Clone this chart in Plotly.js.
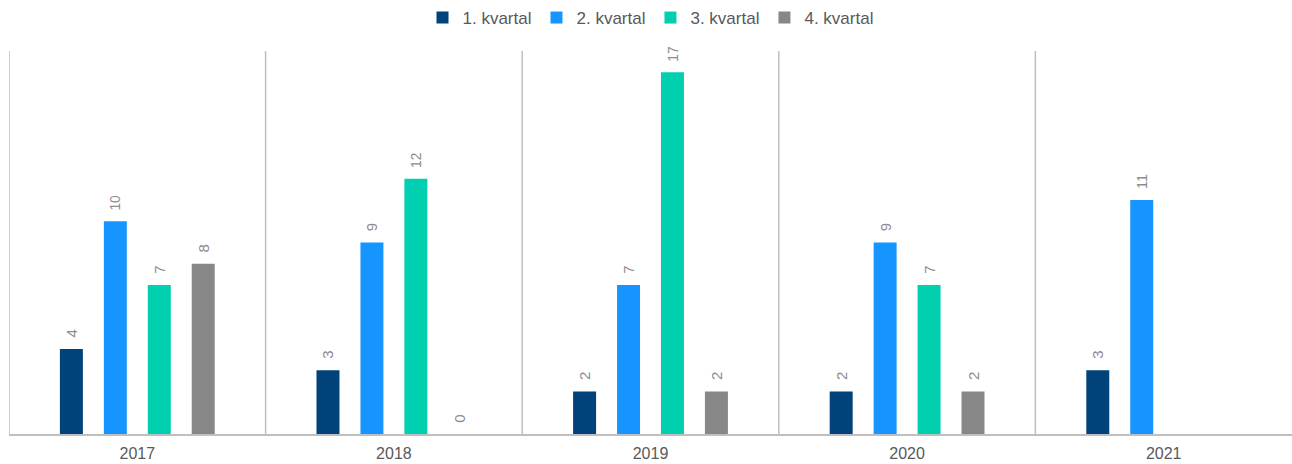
<!DOCTYPE html>
<html>
<head>
<meta charset="utf-8">
<script src="https://cdn.plot.ly/plotly-3.0.1.min.js"></script>
<style>html,body{margin:0;padding:0;background:#fff;}#chart{width:1292px;height:464px;}</style>
</head>
<body>
<div id="chart"></div>
<script>
const years = ['2017', '2018', '2019', '2020', '2021'];
const seriesNames = ['1. kvartal', '2. kvartal', '3. kvartal', '4. kvartal'];
const q1 = [4, 3, 2, 2, 3];
const q2 = [10, 9, 7, 9, 11];
const q3 = [7, 12, 17, 7, null];
const q4 = [8, 0, 2, 2, null];
const colors = ['#00427a', '#1694ff', '#00d0b0', '#878787'];

const allSeries = [q1, q2, q3, q4];
const traces = allSeries.map((vals, i) => ({
  type: 'bar',
  name: seriesNames[i],
  x: years,
  y: vals,
  marker: {color: colors[i]},
  text: vals.map(v => v === null ? '' : '\u00a0\u00a0' + String(v)),
  textposition: 'outside',
  textangle: -90,
  textfont: {family: 'Liberation Sans, Arial, sans-serif', size: 15, color: '#8c8c8c'},
  cliponaxis: false,
  hoverinfo: 'skip'
}));

const shapes = [];
for (let k = 0; k < years.length; k++) {
  shapes.push({type: 'line', xref: 'x', yref: 'paper', x0: k - 0.5, x1: k - 0.5, y0: 0, y1: 1,
    line: {color: '#bfbfbf', width: 1.5}});
}

const layout = {
  width: 1292, height: 464,
  margin: {l: 9, r: 0, t: 51, b: 30},
  paper_bgcolor: '#ffffff', plot_bgcolor: '#ffffff',
  barmode: 'group',
  bargap: 0.315,
  bargroupgap: 0.477,
  font: {family: 'Liberation Sans, Arial, sans-serif', color: '#595959', size: 16},
  showlegend: true,
  legend: {orientation: 'h', x: 0.5, xanchor: 'center', y: 1, yref: 'container', yanchor: 'top',
    font: {size: 17, color: '#595959'}, itemwidth: 30, traceorder: 'normal'},
  xaxis: {type: 'category', range: [-0.5, 4.5], showgrid: false, zeroline: false,
    showline: true, linecolor: '#bfbfbf', linewidth: 1.5, ticks: '',
    ticklabelstandoff: 4,
    tickfont: {size: 16, color: '#595959'}},
  yaxis: {range: [0, 18], showgrid: false, zeroline: false, showline: false, showticklabels: false, ticks: ''},
  shapes: shapes
};

Plotly.newPlot('chart', traces, layout, {displayModeBar: false, staticPlot: true});
</script>
</body>
</html>
